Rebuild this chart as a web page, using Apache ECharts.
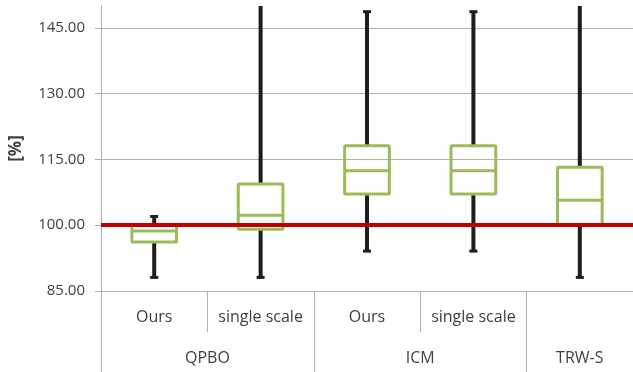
<!DOCTYPE html>
<html>
<head>
<meta charset="utf-8">
<script src="https://cdn.jsdelivr.net/npm/echarts@6/dist/echarts.min.js"></script>
<style>html,body{margin:0;padding:0;background:#fff}#c{width:633px;height:372px}</style>
</head>
<body>
<div id="c"></div>
<script>
// categories
const methods = ['Ours', 'single scale', 'Ours', 'single scale', ''];
const groups = ['QPBO', 'ICM', 'TRW-S'];
const groupSpans = [2, 2, 1];
// box statistics [min, Q1, median, Q3, max]
const mins    = [88.1, 88.1, 94.1, 94.1, 88.1];
const q1s     = [96.2, 99.1, 107.1, 107.1, 100.0];
const medians = [98.7, 102.3, 112.4, 112.4, 105.7];
const q3s     = [100.0, 109.4, 118.1, 118.1, 113.2];
const maxs    = [102.0, 160.0, 148.7, 148.7, 160.0];
const yTicks = [85, 100, 115, 130, 145];
const referenceValue = 100;

const data = methods.map((m, i) => [i, mins[i], q1s[i], medians[i], q3s[i], maxs[i]]);

// group boundaries and centers on a 0..N value axis
const bounds = [0];
groupSpans.forEach(s => bounds.push(bounds[bounds.length - 1] + s));
const centers = groupSpans.map((s, i) => bounds[i] + s / 2);

const font = '"Open Sans", "Liberation Sans", sans-serif';
const textColor = '#404040';
const gridColor = '#B0B0B0';

const chart = echarts.init(document.getElementById('c'), null, {renderer: 'canvas'});
chart.setOption({
  animation: false,
  grid: {left: 100, top: 6, width: 535, bottom: 81},
  xAxis: [{
    type: 'category',
    data: methods,
    position: 'bottom',
    axisLine: {show: false},
    axisTick: {show: true, interval: 0, length: 41, lineStyle: {color: gridColor, width: 1}},
    axisLabel: {interval: 0, margin: 18, fontSize: 16, color: textColor, fontFamily: font},
    splitLine: {show: false}
  }, {
    type: 'value',
    min: 0, max: methods.length,
    position: 'bottom',
    offset: 41,
    axisLine: {show: false},
    axisTick: {show: true, length: 40, customValues: bounds, lineStyle: {color: gridColor, width: 1}},
    axisLabel: {
      customValues: centers, margin: 18, fontSize: 16, color: textColor, fontFamily: font,
      formatter: v => { const k = centers.indexOf(v); return k >= 0 ? groups[k] : ''; }
    },
    splitLine: {show: false}
  }],
  yAxis: {
    type: 'value',
    min: 85, max: 150,
    name: '[%]',
    nameLocation: 'middle',
    nameGap: 76,
    nameTextStyle: {fontSize: 17, fontWeight: 'bold', color: textColor, fontFamily: font},
    axisLine: {show: true, lineStyle: {color: gridColor, width: 1}},
    axisTick: {show: true, length: 6, customValues: yTicks, lineStyle: {color: gridColor}},
    axisLabel: {customValues: yTicks, margin: 16, fontSize: 15, color: textColor, fontFamily: font,
      formatter: v => v.toFixed(2)},
    splitLine: {show: true, customValues: yTicks, lineStyle: {color: gridColor, width: 1}}
  },
  series: [{
    type: 'custom',
    xAxisIndex: 0,
    clip: true,
    data: data,
    encode: {x: 0, y: [1, 2, 3, 4, 5]},
    renderItem: function (params, api) {
      const idx = api.value(0);
      const band = api.size([1, 0])[0];
      const bw = band * 0.42;
      const cap = 8;
      const pMin = api.coord([idx, api.value(1)]);
      const pQ1 = api.coord([idx, api.value(2)]);
      const pMed = api.coord([idx, api.value(3)]);
      const pQ3 = api.coord([idx, api.value(4)]);
      const pMax = api.coord([idx, api.value(5)]);
      const x = pMed[0];
      const black = {stroke: '#1E1E1E', lineWidth: 4};
      const green = {stroke: '#9BBB59', lineWidth: 3, fill: 'none'};
      return {
        type: 'group',
        children: [
          {type: 'line', shape: {x1: x, y1: pQ3[1], x2: x, y2: pMax[1]}, style: black},
          {type: 'line', shape: {x1: x, y1: pQ1[1], x2: x, y2: pMin[1]}, style: black},
          {type: 'line', shape: {x1: x - cap / 2, y1: pMax[1], x2: x + cap / 2, y2: pMax[1]}, style: {stroke: '#1E1E1E', lineWidth: 3}},
          {type: 'line', shape: {x1: x - cap / 2, y1: pMin[1], x2: x + cap / 2, y2: pMin[1]}, style: {stroke: '#1E1E1E', lineWidth: 3}},
          {type: 'rect', shape: {x: x - bw / 2, y: pQ3[1], width: bw, height: pQ1[1] - pQ3[1], r: 1}, style: green},
          {type: 'line', shape: {x1: x - bw / 2, y1: pMed[1], x2: x + bw / 2, y2: pMed[1]}, style: {stroke: '#9BBB59', lineWidth: 3}}
        ]
      };
    },
    markLine: {
      silent: true,
      symbol: 'none',
      label: {show: false},
      lineStyle: {color: '#C00000', width: 4, type: 'solid'},
      data: [{yAxis: referenceValue}]
    },
    z: 3
  }]
});
</script>
</body>
</html>
